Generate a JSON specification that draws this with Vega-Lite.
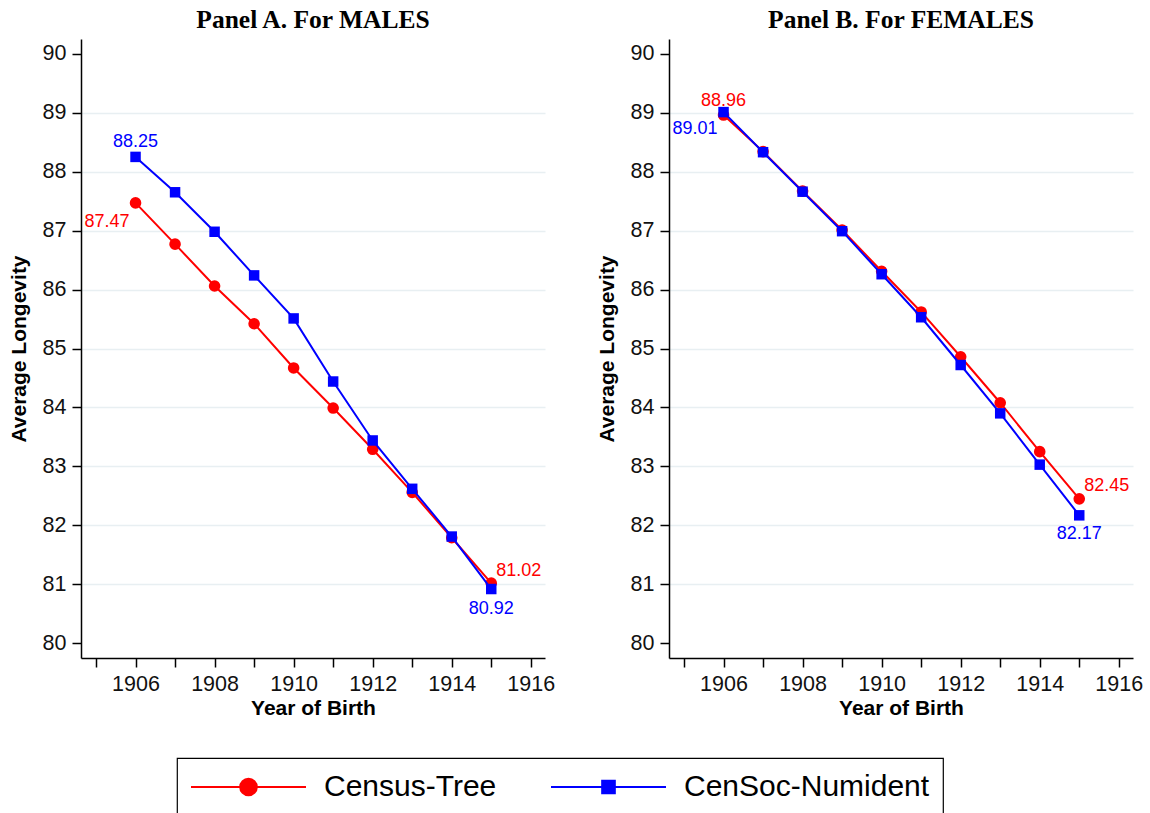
{
  "$schema": "https://vega.github.io/schema/vega-lite/v6.json",
  "background": "white",
  "padding": {"left": 8, "top": 7, "right": 10, "bottom": 0},
  "bounds": "flush",
  "spacing": 124,
  "config": {
    "view": {"stroke": null},
    "axis": {
      "domainColor": "#000000",
      "domainWidth": 1.5,
      "tickColor": "#000000",
      "tickWidth": 1.5,
      "tickSize": 9,
      "labelFont": "Liberation Sans",
      "labelFontSize": 21.5,
      "labelColor": "#111111",
      "labelPadding": 6,
      "titleFont": "Liberation Sans",
      "titleFontSize": 21,
      "titleFontWeight": "bold",
      "titleColor": "#000000",
      "grid": false
    },
    "title": {
      "font": "Liberation Serif",
      "fontSize": 25.5,
      "fontWeight": "bold",
      "color": "#000000",
      "anchor": "middle",
      "frame": "group",
      "baseline": "alphabetic",
      "offset": 6
    }
  },
  "datasets": {
    "longevity": [
      {"sex": "Male", "series": "Census-Tree", "year": 1906, "longevity": 87.47},
      {"sex": "Male", "series": "Census-Tree", "year": 1907, "longevity": 86.77},
      {"sex": "Male", "series": "Census-Tree", "year": 1908, "longevity": 86.06},
      {"sex": "Male", "series": "Census-Tree", "year": 1909, "longevity": 85.42},
      {"sex": "Male", "series": "Census-Tree", "year": 1910, "longevity": 84.67},
      {"sex": "Male", "series": "Census-Tree", "year": 1911, "longevity": 83.99},
      {"sex": "Male", "series": "Census-Tree", "year": 1912, "longevity": 83.29},
      {"sex": "Male", "series": "Census-Tree", "year": 1913, "longevity": 82.56},
      {"sex": "Male", "series": "Census-Tree", "year": 1914, "longevity": 81.79},
      {"sex": "Male", "series": "Census-Tree", "year": 1915, "longevity": 81.02},
      {"sex": "Male", "series": "CenSoc-Numident", "year": 1906, "longevity": 88.25},
      {"sex": "Male", "series": "CenSoc-Numident", "year": 1907, "longevity": 87.65},
      {"sex": "Male", "series": "CenSoc-Numident", "year": 1908, "longevity": 86.98},
      {"sex": "Male", "series": "CenSoc-Numident", "year": 1909, "longevity": 86.24},
      {"sex": "Male", "series": "CenSoc-Numident", "year": 1910, "longevity": 85.51},
      {"sex": "Male", "series": "CenSoc-Numident", "year": 1911, "longevity": 84.44},
      {"sex": "Male", "series": "CenSoc-Numident", "year": 1912, "longevity": 83.44},
      {"sex": "Male", "series": "CenSoc-Numident", "year": 1913, "longevity": 82.62},
      {"sex": "Male", "series": "CenSoc-Numident", "year": 1914, "longevity": 81.81},
      {"sex": "Male", "series": "CenSoc-Numident", "year": 1915, "longevity": 80.92},
      {"sex": "Female", "series": "Census-Tree", "year": 1906, "longevity": 88.96},
      {"sex": "Female", "series": "Census-Tree", "year": 1907, "longevity": 88.34},
      {"sex": "Female", "series": "Census-Tree", "year": 1908, "longevity": 87.67},
      {"sex": "Female", "series": "Census-Tree", "year": 1909, "longevity": 87.01},
      {"sex": "Female", "series": "Census-Tree", "year": 1910, "longevity": 86.31},
      {"sex": "Female", "series": "Census-Tree", "year": 1911, "longevity": 85.62},
      {"sex": "Female", "series": "Census-Tree", "year": 1912, "longevity": 84.86},
      {"sex": "Female", "series": "Census-Tree", "year": 1913, "longevity": 84.08},
      {"sex": "Female", "series": "Census-Tree", "year": 1914, "longevity": 83.25},
      {"sex": "Female", "series": "Census-Tree", "year": 1915, "longevity": 82.45},
      {"sex": "Female", "series": "CenSoc-Numident", "year": 1906, "longevity": 89.01},
      {"sex": "Female", "series": "CenSoc-Numident", "year": 1907, "longevity": 88.33},
      {"sex": "Female", "series": "CenSoc-Numident", "year": 1908, "longevity": 87.66},
      {"sex": "Female", "series": "CenSoc-Numident", "year": 1909, "longevity": 86.99},
      {"sex": "Female", "series": "CenSoc-Numident", "year": 1910, "longevity": 86.26},
      {"sex": "Female", "series": "CenSoc-Numident", "year": 1911, "longevity": 85.53},
      {"sex": "Female", "series": "CenSoc-Numident", "year": 1912, "longevity": 84.72},
      {"sex": "Female", "series": "CenSoc-Numident", "year": 1913, "longevity": 83.90},
      {"sex": "Female", "series": "CenSoc-Numident", "year": 1914, "longevity": 83.03},
      {"sex": "Female", "series": "CenSoc-Numident", "year": 1915, "longevity": 82.17}
    ]
  },
  "hconcat": [
    {
      "width": 464,
      "height": 619,
      "title": {"text": "Panel A. For MALES"},
      "data": {"name": "longevity"},
      "transform": [{"filter": "datum.sex === 'Male'"}],
      "encoding": {
        "x": {
          "field": "year", "type": "quantitative", "title": "Year of Birth",
          "scale": {"domain": [1904.62, 1916.36], "nice": false, "zero": false},
          "axis": {"values": [1905, 1906, 1907, 1908, 1909, 1910, 1911, 1912, 1913, 1914, 1915, 1916], "format": "d", "labelExpr": "datum.value % 2 === 0 ? datum.label : ''", "titlePadding": 3, "labelFlush": false, "labelOverlap": false}
        },
        "y": {
          "field": "longevity", "type": "quantitative", "title": "Average Longevity",
          "scale": {"domain": [79.75, 90.25], "nice": false, "zero": false},
          "axis": {"values": [80, 81, 82, 83, 84, 85, 86, 87, 88, 89, 90], "format": "d", "titlePadding": 13, "grid": true, "gridColor": "#e8eff2", "gridWidth": 1.5, "gridOpacity": {"condition": {"test": "datum.value === 80 || datum.value === 90", "value": 0}, "value": 1}, "labelFlush": false, "labelOverlap": false}
        },
        "color": {
          "field": "series", "type": "nominal",
          "scale": {"domain": ["Census-Tree", "CenSoc-Numident"], "range": ["#ff0000", "#0000ff"]},
          "legend": {
            "orient": "none", "legendX": 96, "legendY": 719, "direction": "horizontal", "columns": 2, "title": null,
            "labelFont": "Liberation Sans", "labelFontSize": 30, "labelColor": "#000000", "labelLimit": 600,
            "labelExpr": "datum.label === 'CenSoc-Numident' ? datum.label + '\u00a0' : datum.label",
            "symbolSize": 13225, "symbolStrokeWidth": 2, "labelOffset": 17, "columnPadding": 53,
            "clipHeight": 32,
            "padding": 13, "strokeColor": "#000000", "fillColor": "#ffffff",
            "encode": {
              "legend": {"update": {"strokeWidth": {"value": 1.2}}},
              "symbols": {"update": {
                "shape": {"signal": "datum.value === 'Census-Tree' ? 'M-1,0H1M-0.145,0A0.145,0.145,0,1,0,0.145,0A0.145,0.145,0,1,0,-0.145,0Z' : 'M-1,0H1M-0.11,-0.11H0.11V0.11H-0.11Z'"},
                "fill": {"signal": "datum.value === 'Census-Tree' ? '#ff0000' : '#0000ff'"},
                "stroke": {"signal": "datum.value === 'Census-Tree' ? '#ff0000' : '#0000ff'"},
                "strokeWidth": {"value": 2},
                "opacity": {"value": 1}
              }}
            }
          }
        }
      },
      "layer": [
        {"transform": [{"filter": "datum.series === 'Census-Tree'"}], "mark": {"type": "line", "strokeWidth": 2}},
        {"transform": [{"filter": "datum.series === 'Census-Tree'"}], "mark": {"type": "point", "shape": "circle", "filled": true, "size": 135, "opacity": 1}},
        {"transform": [{"filter": "datum.series === 'CenSoc-Numident'"}], "mark": {"type": "line", "strokeWidth": 2}},
        {"transform": [{"filter": "datum.series === 'CenSoc-Numident'"}], "mark": {"type": "point", "shape": "square", "filled": true, "size": 110, "opacity": 1}},
        {"transform": [{"filter": "datum.series === 'CenSoc-Numident' && datum.year === 1906"}], "mark": {"type": "text", "font": "Liberation Sans", "fontSize": 18, "align": "center", "baseline": "alphabetic", "dy": -10}, "encoding": {"text": {"field": "longevity", "type": "quantitative", "format": ".2f"}}},
        {"transform": [{"filter": "datum.series === 'Census-Tree' && datum.year === 1906"}], "mark": {"type": "text", "font": "Liberation Sans", "fontSize": 18, "align": "right", "baseline": "alphabetic", "dx": -6, "dy": 24}, "encoding": {"text": {"field": "longevity", "type": "quantitative", "format": ".2f"}}},
        {"transform": [{"filter": "datum.series === 'Census-Tree' && datum.year === 1915"}], "mark": {"type": "text", "font": "Liberation Sans", "fontSize": 18, "align": "left", "baseline": "alphabetic", "dx": 5, "dy": -7}, "encoding": {"text": {"field": "longevity", "type": "quantitative", "format": ".2f"}}},
        {"transform": [{"filter": "datum.series === 'CenSoc-Numident' && datum.year === 1915"}], "mark": {"type": "text", "font": "Liberation Sans", "fontSize": 18, "align": "center", "baseline": "alphabetic", "dy": 25}, "encoding": {"text": {"field": "longevity", "type": "quantitative", "format": ".2f"}}}
      ]
    },
    {
      "width": 464,
      "height": 619,
      "title": {"text": "Panel B. For FEMALES"},
      "data": {"name": "longevity"},
      "transform": [{"filter": "datum.sex === 'Female'"}],
      "encoding": {
        "x": {
          "field": "year", "type": "quantitative", "title": "Year of Birth",
          "scale": {"domain": [1904.62, 1916.36], "nice": false, "zero": false},
          "axis": {"values": [1905, 1906, 1907, 1908, 1909, 1910, 1911, 1912, 1913, 1914, 1915, 1916], "format": "d", "labelExpr": "datum.value % 2 === 0 ? datum.label : ''", "titlePadding": 3, "labelFlush": false, "labelOverlap": false}
        },
        "y": {
          "field": "longevity", "type": "quantitative", "title": "Average Longevity",
          "scale": {"domain": [79.75, 90.25], "nice": false, "zero": false},
          "axis": {"values": [80, 81, 82, 83, 84, 85, 86, 87, 88, 89, 90], "format": "d", "titlePadding": 13, "grid": true, "gridColor": "#e8eff2", "gridWidth": 1.5, "gridOpacity": {"condition": {"test": "datum.value === 80 || datum.value === 90", "value": 0}, "value": 1}, "labelFlush": false, "labelOverlap": false}
        },
        "color": {
          "field": "series", "type": "nominal",
          "scale": {"domain": ["Census-Tree", "CenSoc-Numident"], "range": ["#ff0000", "#0000ff"]},
          "legend": {
            "orient": "none", "legendX": 96, "legendY": 719, "direction": "horizontal", "columns": 2, "title": null,
            "labelFont": "Liberation Sans", "labelFontSize": 30, "labelColor": "#000000", "labelLimit": 600,
            "labelExpr": "datum.label === 'CenSoc-Numident' ? datum.label + '\u00a0' : datum.label",
            "symbolSize": 13225, "symbolStrokeWidth": 2, "labelOffset": 17, "columnPadding": 53,
            "clipHeight": 32,
            "padding": 13, "strokeColor": "#000000", "fillColor": "#ffffff",
            "encode": {
              "legend": {"update": {"strokeWidth": {"value": 1.2}}},
              "symbols": {"update": {
                "shape": {"signal": "datum.value === 'Census-Tree' ? 'M-1,0H1M-0.145,0A0.145,0.145,0,1,0,0.145,0A0.145,0.145,0,1,0,-0.145,0Z' : 'M-1,0H1M-0.11,-0.11H0.11V0.11H-0.11Z'"},
                "fill": {"signal": "datum.value === 'Census-Tree' ? '#ff0000' : '#0000ff'"},
                "stroke": {"signal": "datum.value === 'Census-Tree' ? '#ff0000' : '#0000ff'"},
                "strokeWidth": {"value": 2},
                "opacity": {"value": 1}
              }}
            }
          }
        }
      },
      "layer": [
        {"transform": [{"filter": "datum.series === 'Census-Tree'"}], "mark": {"type": "line", "strokeWidth": 2}},
        {"transform": [{"filter": "datum.series === 'Census-Tree'"}], "mark": {"type": "point", "shape": "circle", "filled": true, "size": 135, "opacity": 1}},
        {"transform": [{"filter": "datum.series === 'CenSoc-Numident'"}], "mark": {"type": "line", "strokeWidth": 2}},
        {"transform": [{"filter": "datum.series === 'CenSoc-Numident'"}], "mark": {"type": "point", "shape": "square", "filled": true, "size": 110, "opacity": 1}},
        {"transform": [{"filter": "datum.series === 'Census-Tree' && datum.year === 1906"}], "mark": {"type": "text", "font": "Liberation Sans", "fontSize": 18, "align": "center", "baseline": "alphabetic", "dy": -9}, "encoding": {"text": {"field": "longevity", "type": "quantitative", "format": ".2f"}}},
        {"transform": [{"filter": "datum.series === 'CenSoc-Numident' && datum.year === 1906"}], "mark": {"type": "text", "font": "Liberation Sans", "fontSize": 18, "align": "right", "baseline": "alphabetic", "dx": -6, "dy": 22}, "encoding": {"text": {"field": "longevity", "type": "quantitative", "format": ".2f"}}},
        {"transform": [{"filter": "datum.series === 'Census-Tree' && datum.year === 1915"}], "mark": {"type": "text", "font": "Liberation Sans", "fontSize": 18, "align": "left", "baseline": "alphabetic", "dx": 5, "dy": -8}, "encoding": {"text": {"field": "longevity", "type": "quantitative", "format": ".2f"}}},
        {"transform": [{"filter": "datum.series === 'CenSoc-Numident' && datum.year === 1915"}], "mark": {"type": "text", "font": "Liberation Sans", "fontSize": 18, "align": "center", "baseline": "alphabetic", "dy": 24}, "encoding": {"text": {"field": "longevity", "type": "quantitative", "format": ".2f"}}}
      ]
    }
  ]
}
